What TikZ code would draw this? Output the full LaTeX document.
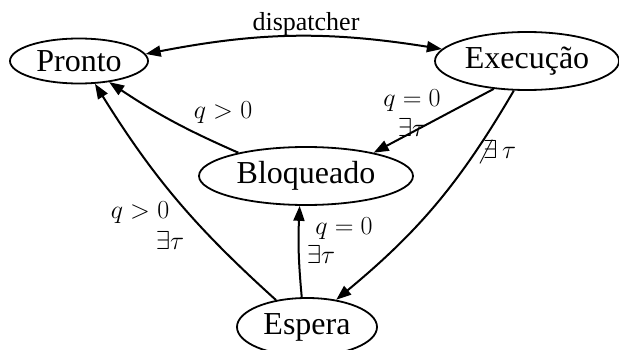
\RequirePackage{fix-cm}
\documentclass[tikz,border=0pt]{standalone}
\usepackage{fontspec}
\setmainfont{Liberation Serif}
\usetikzlibrary{shapes.geometric,arrows.meta}

\tikzset{
  state/.style={ellipse, draw, line width=1.8pt, inner sep=0pt,
    font=\fontsize{32}{38}\selectfont},
  lbl/.style={inner sep=0pt, align=center,
    font=\fontsize{26}{26}\selectfont},
  trans/.style={line width=2pt, -{Triangle[length=15pt,width=11pt]}},
}

\begin{document}
\begin{tikzpicture}[x=1pt,y=-1pt]
  \useasboundingbox (0,0) rectangle (619,350);

  % process states
  \node[state, minimum width=138, minimum height=45] (P) at (79,61) {Pronto};
  \node[state, minimum width=184, minimum height=58] (E) at (527,61) {Execução};
  \node[state, minimum width=214, minimum height=58] (B) at (306,176) {Bloqueado};
  \node[state, minimum width=140, minimum height=58] (S) at (307,327) {Espera};

  % transitions
  \draw[trans, {Triangle[length=15pt,width=11pt]}-{Triangle[length=15pt,width=11pt]}]
    (P.6) to[bend left=10] (E.172);
  \draw[trans] (B.161) to[bend left=5] (P.-35);
  \draw[trans] (E.220) to (B.19);
  \draw[trans] (E.246) to[bend left=10] (S.43);
  \draw[trans] (S.139) to[bend left=8] (P.-55);
  \draw[trans] (S.100) to[bend left=4] (B.-102);

  % transition labels
  \node[lbl] (ldisp) at (306,24) {dispatcher};
  \node[lbl] (lbp) at (223,113) {$q>0$};
  \node[lbl] (leb1) at (412,101) {$q=0$};
  \node[lbl] (leb2) at (412,127) {$\exists\tau$};
  \node[lbl] (les) at (496,152) {$\not\exists\,\tau$};
  \node[lbl] (lsp1) at (140,213) {$q>0$};
  \node[lbl] (lsp2) at (170,240) {$\exists\tau$};
  \node[lbl] (lsb1) at (344,229) {$q=0$};
  \node[lbl] (lsb2) at (321,254) {$\exists\tau$};
\end{tikzpicture}
\end{document}
